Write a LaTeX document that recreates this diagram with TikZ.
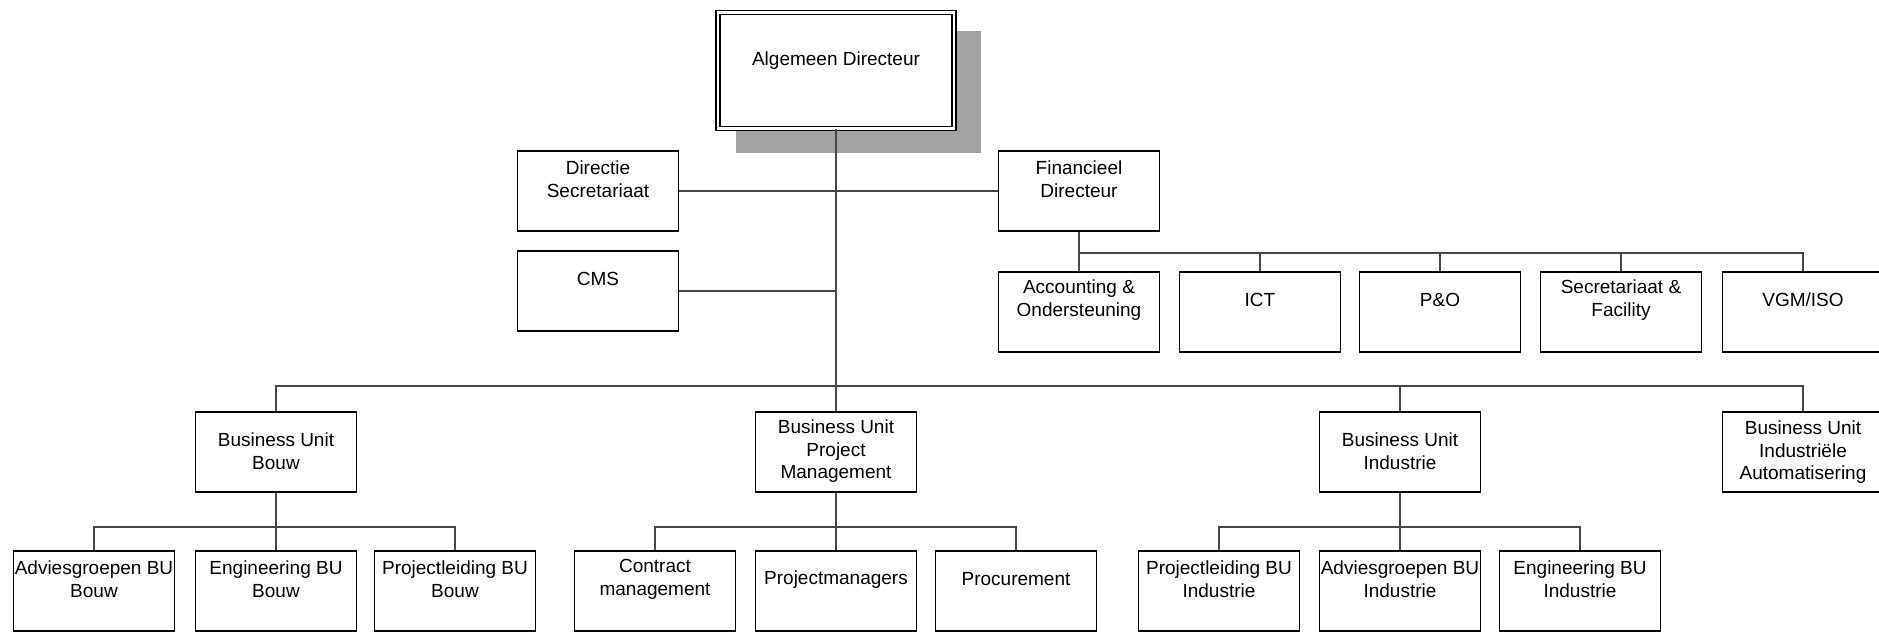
\documentclass[tikz,border=0pt]{standalone}
\usepackage{fontspec}
\setmainfont{Liberation Sans}

% An organisation box: empty framed node plus its caption, set near the top.
% #1 caption offset from top edge, #2 name, #3 centre x, #4 top y, #5 caption
\newcommand\orgbox[5][29]{%
  \node[orgrect] (#2) at (#3,#4+40) {};
  \node[orgtext] (#2-t) at ([yshift=-#1pt]#2.north) {#5};%
}

\begin{document}
\begin{tikzpicture}[x=1pt,y=-1pt,
  orgrect/.style={draw=black, fill=white, line width=1.8pt,
                  minimum width=161pt, minimum height=80pt, inner sep=0pt},
  orgtext/.style={align=center, inner sep=0pt,
                  font=\fontsize{19}{22.5}\selectfont},
  topbox/.style={draw=black, fill=white, double=white, double distance=2.6pt,
                 line width=1.5pt, minimum width=236pt, minimum height=116pt,
                 inner sep=0pt},
  wire/.style={draw=black!72, line width=1.2pt}]

\useasboundingbox (0,0) rectangle (1879,632);
\fill[white] (0,0) rectangle (1879,632);
\clip (0,0) rectangle (1879,632);

% shadow behind the director's box
\fill[black!36] (736,31) rectangle (981,153);

% top of the chart
\node[topbox] (ad) at (836,70.5) {};
\node[orgtext] (ad-t) at ([yshift=-48.5pt]ad.north) {Algemeen Directeur};

% staff next to the director
\orgbox{ds}{598}{151}{Directie\\Secretariaat}
\orgbox{cms}{598}{251}{CMS}
\orgbox{fd}{1079}{151}{Financieel\\Directeur}

% departments under the financial director
\orgbox{acc}{1079}{272}{Accounting \&\\Ondersteuning}
\orgbox{ict}{1260}{272}{ICT}
\orgbox{po}{1440}{272}{P\&O}
\orgbox{sf}{1621}{272}{Secretariaat \&\\Facility}
\orgbox{vgm}{1803}{272}{VGM/ISO}

% business units (captions centred)
\orgbox[40]{bouw}{276}{412}{Business Unit\\Bouw}
\orgbox[40]{pm}{836}{412}{Business Unit\\Project\\Management}
\orgbox[40]{ind}{1400}{412}{Business Unit\\Industrie}
\orgbox[41]{ia}{1803}{412}{Business Unit\\Industriële\\Automatisering}

% groups within the business units
\orgbox{advb}{94}{551}{Adviesgroepen BU\\Bouw}
\orgbox{engb}{276}{551}{Engineering BU\\Bouw}
\orgbox{prlb}{455}{551}{Projectleiding BU\\Bouw}
\orgbox{cm}{655}{551}{Contract\\management}
\orgbox{pmg}{836}{551}{Projectmanagers}
\orgbox{proc}{1016}{551}{Procurement}
\orgbox{prli}{1219}{551}{Projectleiding BU\\Industrie}
\orgbox{advi}{1400}{551}{Adviesgroepen BU\\Industrie}
\orgbox{engi}{1580}{551}{Engineering BU\\Industrie}

% bus points of the tree
\coordinate (sbus) at (1079,253);
\coordinate (bubus) at (836,386);
\coordinate (bbus) at (276,527);
\coordinate (pbus) at (836,527);
\coordinate (ibus) at (1400,527);

% trunk and staff links
\draw[wire] (ad.south) -- (pm.north);
\draw[wire] (ds.east) -- (fd.west);
\draw[wire] (cms.east) -- (cms.east -| ad.south);

% financial departments
\draw[wire] (fd.south) -- (sbus) -- (acc.north);
\draw[wire] (sbus) -| (ict.north);
\draw[wire] (sbus) -| (po.north);
\draw[wire] (sbus) -| (sf.north);
\draw[wire] (sbus) -| (vgm.north);

% business units
\draw[wire] (bubus) -| (bouw.north);
\draw[wire] (bubus) -| (ind.north);
\draw[wire] (bubus) -| (ia.north);

% groups
\draw[wire] (bouw.south) -- (engb.north);
\draw[wire] (bbus) -| (advb.north);
\draw[wire] (bbus) -| (prlb.north);
\draw[wire] (pm.south) -- (pmg.north);
\draw[wire] (pbus) -| (cm.north);
\draw[wire] (pbus) -| (proc.north);
\draw[wire] (ind.south) -- (advi.north);
\draw[wire] (ibus) -| (prli.north);
\draw[wire] (ibus) -| (engi.north);

\end{tikzpicture}
\end{document}
